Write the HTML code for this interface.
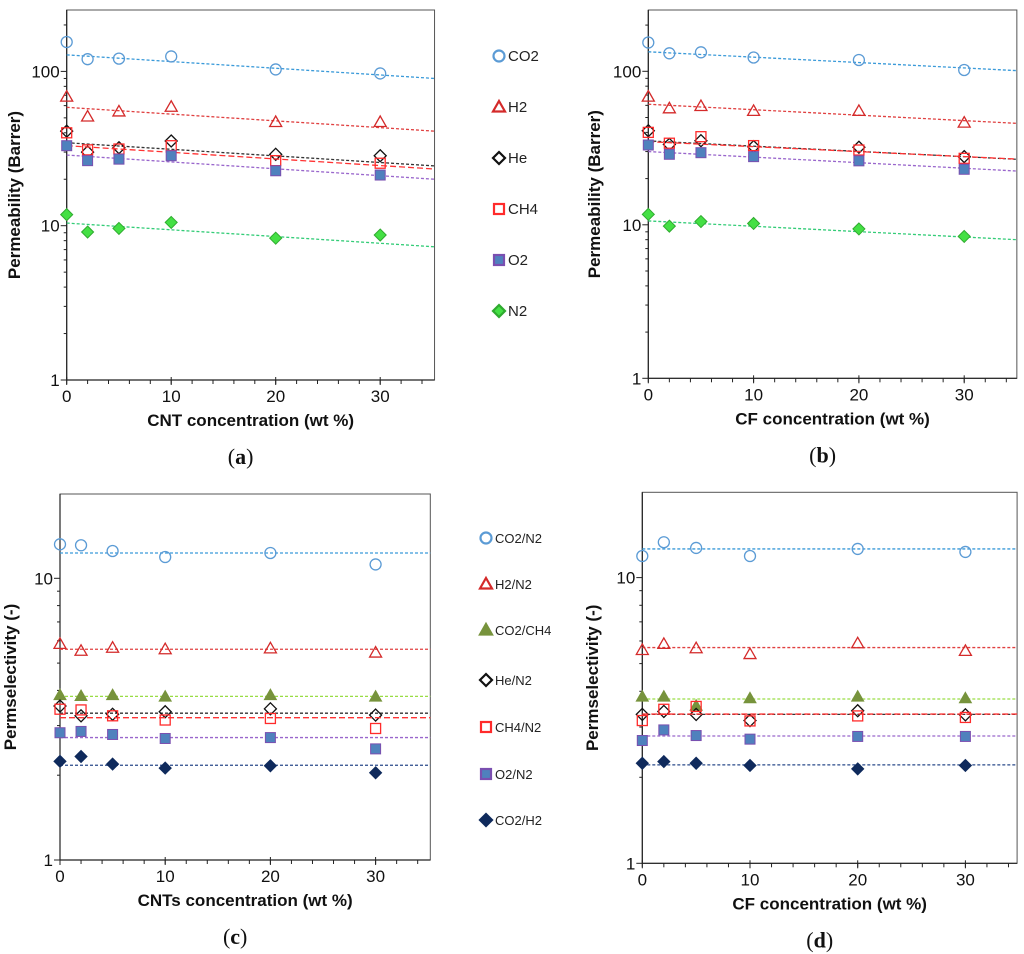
<!DOCTYPE html>
<html><head><meta charset="utf-8"><style>
body{margin:0;background:#fff;}
svg{display:block;font-family:"Liberation Sans",sans-serif;}
</style></head><body>
<svg id="fig" width="1024" height="954" viewBox="0 0 1024 954"></svg>
<script>
// ---- data ----
const xVals = [0, 2, 5, 10, 20, 30];
// Panel (a) permeability vs CNT
const aCO2 = [155, 120, 121, 125, 103, 97];
const aH2  = [68.6, 51, 55, 59, 47, 47];
const aHe  = [41, 30, 32, 35.4, 29, 28.4];
const aCH4 = [40, 31, 31.4, 33, 26.4, 25.4];
const aO2  = [33, 26.4, 27, 28.4, 22.7, 21.3];
const aN2  = [11.8, 9.1, 9.6, 10.5, 8.3, 8.7];
const aFitStart = [128, 58.5, 34.5, 33, 28.7, 10.4];
const aFitEnd   = [90, 41, 24.4, 23.3, 20, 7.3];
// Panel (b) permeability vs CF
const bCO2 = [154, 131, 133, 123, 118.5, 102];
const bH2  = [68.4, 57.4, 59.4, 55.2, 55.2, 46.3];
const bHe  = [41, 33.4, 35.3, 32.3, 32, 27.8];
const bCH4 = [40, 34, 37.5, 32.8, 30.7, 27.1];
const bO2  = [33.1, 28.8, 29.5, 27.8, 26.1, 23];
const bN2  = [11.7, 9.8, 10.5, 10.2, 9.4, 8.4];
const bFitStart = [134, 61, 35.2, 34.8, 30, 10.6];
const bFitEnd   = [101, 45.8, 26.7, 26.8, 22.4, 8.0];
// Panel (c) permselectivity vs CNTs
const cCO2N2  = [13.2, 13.1, 12.5, 11.9, 12.3, 11.2];
const cH2N2   = [5.85, 5.53, 5.67, 5.6, 5.64, 5.45];
const cCO2CH4 = [3.85, 3.82, 3.85, 3.8, 3.85, 3.8];
const cHeN2   = [3.52, 3.25, 3.29, 3.36, 3.44, 3.27];
const cCH4N2  = [3.43, 3.41, 3.25, 3.14, 3.18, 2.93];
const cO2N2   = [2.83, 2.86, 2.79, 2.7, 2.72, 2.48];
const cCO2H2  = [2.24, 2.33, 2.19, 2.12, 2.16, 2.04];
const cMean   = [12.3, 5.6, 3.81, 3.32, 3.2, 2.72, 2.17];
// Panel (d) permselectivity vs CF
const dCO2N2  = [11.9, 13.3, 12.7, 11.9, 12.6, 12.3];
const dH2N2   = [5.58, 5.86, 5.66, 5.4, 5.89, 5.54];
const dCO2CH4 = [3.83, 3.83, 3.56, 3.78, 3.83, 3.78];
const dHeN2   = [3.32, 3.4, 3.32, 3.16, 3.42, 3.31];
const dCH4N2  = [3.16, 3.46, 3.54, 3.15, 3.28, 3.24];
const dO2N2   = [2.69, 2.93, 2.8, 2.72, 2.78, 2.78];
const dCO2H2  = [2.24, 2.27, 2.24, 2.2, 2.14, 2.2];
const dMean   = [12.6, 5.69, 3.76, 3.32, 3.33, 2.79, 2.21];
const xTicks = [0, 10, 20, 30];
const permNames = ["CO2", "H2", "He", "CH4", "O2", "N2"];
const selNames = ["CO2/N2", "H2/N2", "CO2/CH4", "He/N2", "CH4/N2", "O2/N2", "CO2/H2"];

const NS = "http://www.w3.org/2000/svg";
const svg = document.getElementById("fig");
function mk(tag, attrs, parent) {
  const e = document.createElementNS(NS, tag);
  for (const k in attrs) e.setAttribute(k, attrs[k]);
  (parent || svg).appendChild(e);
  return e;
}
const permStyles = [
  {m:"circle", stroke:"#5b9bd5", fill:"none", line:"#3a9ad9"},
  {m:"tri", stroke:"#d42a2a", fill:"none", line:"#e04040"},
  {m:"diamond", stroke:"#111", fill:"none", line:"#333"},
  {m:"square", stroke:"#ff2b2b", fill:"none", line:"#ff3333"},
  {m:"square", stroke:"#7a4fb0", fill:"#4f81bd", line:"#9966cc"},
  {m:"diamond", stroke:"#2faa2f", fill:"#44e044", line:"#33cc77"}
];
const selStyles = [
  {m:"circle", stroke:"#5b9bd5", fill:"none", line:"#3a9ad9"},
  {m:"tri", stroke:"#d42a2a", fill:"none", line:"#e04040"},
  {m:"tri", stroke:"#77933c", fill:"#77933c", line:"#99dd44"},
  {m:"diamond", stroke:"#111", fill:"none", line:"#333"},
  {m:"square", stroke:"#ff2b2b", fill:"none", line:"#ff3333"},
  {m:"square", stroke:"#7a4fb0", fill:"#4f81bd", line:"#9966cc"},
  {m:"diamond", stroke:"#0f2a5c", fill:"#0f2a5c", line:"#2a4a8a"}
];
function marker(g, st, cx, cy, s) {
  let e;
  if (st.m === "circle") e = mk("circle", {cx:cx, cy:cy, r:s*0.55}, g);
  else if (st.m === "square") e = mk("rect", {x:cx-s/2, y:cy-s/2, width:s, height:s}, g);
  else if (st.m === "tri") e = mk("polygon", {points:`${cx},${cy-s*0.6} ${cx+s*0.6},${cy+s*0.45} ${cx-s*0.6},${cy+s*0.45}`}, g);
  else e = mk("polygon", {points:`${cx},${cy-s*0.6} ${cx+s*0.6},${cy} ${cx},${cy+s*0.6} ${cx-s*0.6},${cy}`}, g);
  e.setAttribute("fill", st.fill);
  e.setAttribute("stroke", st.stroke);
  e.setAttribute("stroke-width", st.fill === "none" ? 1.3 : 1);
  return e;
}

function panel(P) {
  const g = mk("g", {});
  
  
  const X = v => P.x0 + v * P.xs;
  const Y = v => P.y1 - Math.log10(v) * P.dec;
  const right = X(P.xmax);
  const fr = mk("rect", {x:P.x0, y:P.top, width:right-P.x0, height:P.y1-P.top, fill:"none", stroke:"#555", "stroke-width":1}, g);
  
  
  mk("line", {x1:P.x0, y1:P.top, x2:P.x0, y2:P.y1, stroke:"#222", "stroke-width":1.2}, g);
  mk("line", {x1:P.x0, y1:P.y1, x2:right, y2:P.y1, stroke:"#222", "stroke-width":1.2}, g);
  for (let d = 0; d <= P.decades; d++) {
    for (let k = 1; k <= 9; k++) {
      const v = Math.pow(10, d) * k;
      const y = Y(v);
      if (y < P.top - 0.5) break;
      mk("line", {x1:P.x0 - (k===1?6:3), y1:y, x2:P.x0, y2:y, stroke:"#222"}, g);
      if (k === 1) {
        const t = mk("text", {x:P.x0-7, y:y+6, "text-anchor":"end", "font-size":17, fill:"#111"}, g);
        t.textContent = String(v);
        
        
      }
    }
  }
  for (let v = 0; v <= P.xmax; v += 2) {
    mk("line", {x1:X(v), y1:P.y1, x2:X(v), y2:P.y1 + 4, stroke:"#222"}, g);
  }
  for (const v of xTicks) {
    mk("line", {x1:X(v), y1:P.y1-3, x2:X(v), y2:P.y1 + 5, stroke:"#222"}, g);
    const t = mk("text", {x:X(v), y:P.y1+22, "text-anchor":"middle", "font-size":17, fill:"#111"}, g);
    t.textContent = String(v);
    
    
  }
  const xt = mk("text", {x:(P.x0+right)/2, y:P.y1+46, "text-anchor":"middle", "font-size":17, "font-weight":"bold", fill:"#111"}, g);
  xt.textContent = P.xTitle;
  
  
  const yc = (P.top + P.y1) / 2;
  const yt = mk("text", {x:P.yTitleX, y:yc, "text-anchor":"middle", "font-size":17, "font-weight":"bold", fill:"#111", transform:`rotate(-90 ${P.yTitleX} ${yc})`}, g);
  yt.textContent = P.yTitle;
  
  
  const pl = mk("text", {x:(P.x0+right)/2 - 10, y:P.y1+84, "text-anchor":"middle", "font-size":22, "font-family":"Liberation Serif, serif", fill:"#111"}, g);
  pl.innerHTML = '(<tspan font-weight="bold">' + P.letter + '</tspan>)';
  
  
  P.series.forEach((vals, i) => {
    const st = P.styles[i];
    const sg = mk("g", {}, g);
    
    
    const ln = mk("line", {x1:X(0), y1:Y(P.fitStart[i]), x2:right, y2:Y(P.fitEnd[i]), stroke:st.line, "stroke-width":1.3, "stroke-dasharray": st.m==="square" && st.fill==="none" ? "6,3" : "3,2"}, sg);
    
    
    vals.forEach((v, j) => {
      const m = marker(sg, st, X(xVals[j]), Y(v), 10);
      
      
    });
  });
  if (P.showLegend) {
    P.names.forEach((n, i) => {
      const ly = P.legY[i];
      const lg = mk("g", {}, svg);
      
      
      marker(lg, P.styles[i], P.legX, ly, 10).setAttribute("stroke-width", 2.2);
      const t = mk("text", {x:P.legX + 9, y:ly + 5, "font-size": P.legFont, fill:"#222"}, lg);
      t.textContent = n;
    });
  }
}

panel({name:"panel-a", letter:"a", x0:66.7, xs:10.45, xmax:35.2, y1:380, dec:154.3, top:10, decades:2,
  xTitle:"CNT concentration (wt %)", yTitle:"Permeability (Barrer)", yTitleX:20,
  series:[aCO2,aH2,aHe,aCH4,aO2,aN2], fitStart:aFitStart, fitEnd:aFitEnd, styles:permStyles, names:permNames,
  showLegend:true, legX:499, legY:[56,107,158,209,260,311], legFont:15});
panel({name:"panel-b", letter:"b", x0:648.3, xs:10.53, xmax:35, y1:378.3, dec:153.5, top:10, decades:2,
  xTitle:"CF concentration (wt %)", yTitle:"Permeability (Barrer)", yTitleX:600,
  series:[bCO2,bH2,bHe,bCH4,bO2,bN2], fitStart:bFitStart, fitEnd:bFitEnd, styles:permStyles, names:permNames,
  showLegend:false, legX:0, legY:[], legFont:15});
panel({name:"panel-c", letter:"c", x0:60, xs:10.52, xmax:35.2, y1:860, dec:281.7, top:494, decades:1,
  xTitle:"CNTs concentration (wt %)", yTitle:"Permselectivity (-)", yTitleX:16,
  series:[cCO2N2,cH2N2,cCO2CH4,cHeN2,cCH4N2,cO2N2,cCO2H2], fitStart:cMean, fitEnd:cMean, styles:selStyles, names:selNames,
  showLegend:true, legX:486, legY:[538,584,630,680,727,774,820], legFont:13});
panel({name:"panel-d", letter:"d", x0:642.3, xs:10.77, xmax:34.8, y1:863.3, dec:285.7, top:492.3, decades:1,
  xTitle:"CF concentration (wt %)", yTitle:"Permselectivity (-)", yTitleX:598,
  series:[dCO2N2,dH2N2,dCO2CH4,dHeN2,dCH4N2,dO2N2,dCO2H2], fitStart:dMean, fitEnd:dMean, styles:selStyles, names:selNames,
  showLegend:false, legX:0, legY:[], legFont:13});
</script>
</body></html>
